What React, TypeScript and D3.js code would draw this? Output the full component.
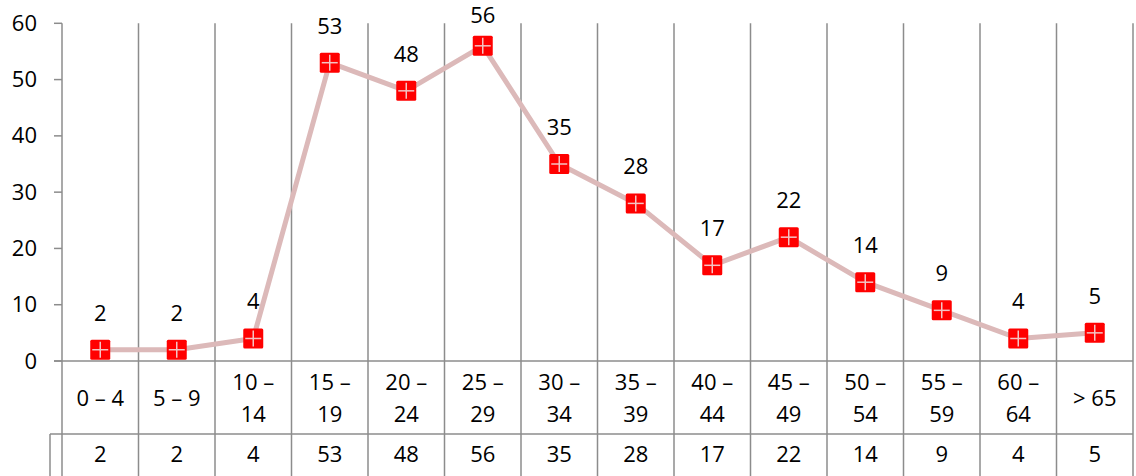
import React from "react";
import * as d3 from "d3";

const categories: string[][] = [
  ["0 – 4"], ["5 – 9"], ["10 –", "14"], ["15 –", "19"], ["20 –", "24"], ["25 –", "29"],
  ["30 –", "34"], ["35 –", "39"], ["40 –", "44"], ["45 –", "49"], ["50 –", "54"],
  ["55 –", "59"], ["60 –", "64"], ["> 65"],
];
const values: number[] = [2, 2, 4, 53, 48, 56, 35, 28, 17, 22, 14, 9, 4, 5];
const yTicks: number[] = [0, 10, 20, 30, 40, 50, 60];

const W = 1136;
const H = 476;
const left = 62;
const right = 1133;
const top = 23.3;
const zeroY = 361;
const tableY = 434;
const grid = "#8c8c8c";
const font = "'Open Sans', 'Noto Sans', sans-serif";
const fs = 22;

export default function App() {
  const keys = categories.map((_, i) => String(i));
  const x = d3.scaleBand<string>().domain(keys).range([left, right]).padding(0);
  const y = d3.scaleLinear().domain([0, 60]).range([zeroY, top]);
  const line = d3
    .line<number>()
    .x((_, i) => (x(String(i)) as number) + x.bandwidth() / 2)
    .y((d) => y(d));
  const bounds = keys.map((k) => x(k) as number).concat([right]);
  const ms = 20;

  return (
    <svg width={W} height={H} style={{ position: "absolute", left: 0, top: 0, background: "#fff" }}>
      {bounds.map((bx, i) => (
        <line key={"v" + i} x1={bx} x2={bx} y1={top} y2={H} stroke={grid} strokeWidth={1.5} />
      ))}
      {yTicks.map((t) => (
        <g key={"t" + t}>
          <line x1={54} x2={left} y1={y(t)} y2={y(t)} stroke={grid} strokeWidth={1.5} />
          <text x={37} y={y(t) + 7.5} textAnchor="end" fontFamily={font} fontSize={fs} fill="#000">
            {t}
          </text>
        </g>
      ))}
      <line x1={54} x2={right} y1={zeroY} y2={zeroY} stroke={grid} strokeWidth={1.5} />
      <line x1={50} x2={right} y1={tableY} y2={tableY} stroke={grid} strokeWidth={1.5} />
      <line x1={50} x2={50} y1={tableY} y2={H} stroke={grid} strokeWidth={1.5} />
      {categories.map((c, i) => {
        const cx = (x(String(i)) as number) + x.bandwidth() / 2;
        return (
          <g key={"c" + i}>
            {c.length === 1 ? (
              <text x={cx} y={405.5} textAnchor="middle" fontFamily={font} fontSize={fs}>
                {c[0]}
              </text>
            ) : (
              c.map((s, j) => (
                <text key={j} x={cx} y={j === 0 ? 389.5 : 422} textAnchor="middle" fontFamily={font} fontSize={fs}>
                  {s}
                </text>
              ))
            )}
            <text x={cx} y={462.3} textAnchor="middle" fontFamily={font} fontSize={fs}>
              {values[i]}
            </text>
          </g>
        );
      })}
      <path d={line(values) || ""} fill="none" stroke="#dcb9b9" strokeWidth={5} strokeLinejoin="round" />
      {values.map((v, i) => {
        const cx = (x(String(i)) as number) + x.bandwidth() / 2;
        const cy = y(v);
        return (
          <g key={"m" + i}>
            <rect x={cx - ms / 2} y={cy - ms / 2} width={ms} height={ms} rx={1.5} fill="#ff0000" />
            <line x1={cx - 8} x2={cx + 8} y1={cy} y2={cy} stroke="#f3c4c4" strokeWidth={1.5} />
            <line x1={cx} x2={cx} y1={cy - 8} y2={cy + 8} stroke="#f3c4c4" strokeWidth={1.5} />
            <text x={cx} y={Math.max(cy - 29, 22.7)} textAnchor="middle" fontFamily={font} fontSize={fs}>
              {v}
            </text>
          </g>
        );
      })}
    </svg>
  );
}
